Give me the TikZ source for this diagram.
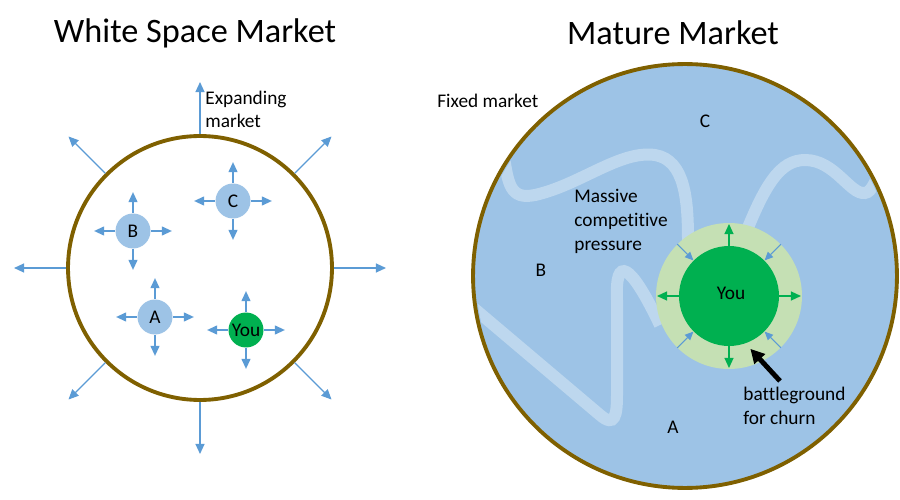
\documentclass[tikz,border=0pt]{standalone}
\usepackage{fontspec}
\setmainfont[Ligatures=NoCommon]{Carlito}
\usetikzlibrary{arrows.meta,calc}
\definecolor{brownring}{HTML}{7F6000}
\definecolor{lblue}{HTML}{9DC3E6}
\definecolor{arrblue}{HTML}{5B9BD5}
\definecolor{wave}{HTML}{BDD7EE}
\definecolor{dgreen}{HTML}{00B050}
\definecolor{lgreen}{HTML}{C5E0B4}
\begin{document}
\begin{tikzpicture}[x=0.02cm,y=-0.02cm,
 market/.style={circle,draw=brownring,line width=2.2pt,inner sep=0},
 firm/.style={circle,fill=lblue,minimum size=0.7cm,inner sep=0,font=\fontsize{11}{13}\selectfont},
 barr/.style={draw=arrblue,fill=arrblue,line width=0.7pt,-{Triangle[length=0.2cm,width=0.18cm]}},
 sarr/.style={draw=arrblue,fill=arrblue,line width=0.6pt,-{Triangle[length=0.17cm,width=0.15cm]}},
 garr/.style={draw=dgreen,fill=dgreen,line width=0.7pt,-{Triangle[length=0.2cm,width=0.18cm]}},
 lbl/.style={font=\fontsize{11}{13.5}\selectfont,inner sep=0,align=left},
 title/.style={font=\fontsize{19.5}{23}\selectfont,inner sep=0},
 wavy/.style={draw=wave,line width=0.24cm}]

\useasboundingbox (0,0) rectangle (900,500);
\fill[white] (0,0) rectangle (900,500);

% titles
\node[title] (t1) at (195,33) {White Space Market};
\node[title] (t2) at (673,33) {Mature Market};

% ---------- left: white space market ----------
\node[market,minimum size=5.28cm] (W) at (200,268) {};
\foreach \a [count=\i] in {0,45,...,315} {
  \coordinate (o\i) at ($(W.center)+(\a:3.72cm)$);
  \draw[barr] (W.\a) -- (o\i);
}
\node[lbl,anchor=west] (exp) at (205,109.5) {Expanding\\market};

\node[firm] (B) at (133,231) {B};
\node[firm] (C) at (233,201) {C};
\node[firm] (A) at (155,317) {A};
\node[firm,fill=dgreen] (Y1) at (246,330) {You};
\foreach \n in {A,B,C,Y1} {
  \draw[barr] (\n.north) -- ++(0,-21);
  \draw[barr] (\n.south) -- ++(0,21);
  \draw[barr] (\n.east) -- ++(21,0);
  \draw[barr] (\n.west) -- ++(-21,0);
}

% ---------- right: mature market ----------
\node[market,fill=lblue,minimum size=8.48cm] (M) at (685,276) {};
\begin{scope}
  \clip (685,276) circle[radius=4.18cm];
  \draw[wavy] (503,150) .. controls (508,185) and (510,200) .. (535,195)
     .. controls (580,185) and (620,150) .. (655,155)
     .. controls (685,160) and (688,200) .. (688,240);
  \draw[wavy] (470,305) -- (600,415) .. controls (615,428) and (617,415) .. (617,395)
     -- (617,300) .. controls (615,255) and (630,262) .. (660,325);
  \draw[wavy] (745,235) .. controls (765,185) and (780,160) .. (805,160)
     .. controls (835,160) and (850,195) .. (865,193)
     .. controls (872,192) and (876,180) .. (882,165);
\end{scope}

\node[circle,fill=lgreen,minimum size=2.92cm,inner sep=0] (R) at (729,296) {};
\node[circle,fill=dgreen,minimum size=2cm,inner sep=0] (Y2) at (729,296) {};
\node[lbl] (you) at (731,293) {You};
\foreach \a in {0,90,180,270} {
  \draw[garr] (Y2.\a) -- ($(Y2.center)+(\a:1.44cm)$);
}
\foreach \a in {45,135,225,315} {
  \draw[sarr] (R.\a) -- (Y2.\a);
}

\node[lbl,anchor=west] (fixed) at (437,101) {Fixed market};
\node[lbl] (lc) at (705,121) {C};
\node[lbl] (lb) at (541,270) {B};
\node[lbl] (la) at (673,427) {A};
\node[lbl,anchor=west] (mass) at (574,221.5) {Massive\\competitive\\pressure};
\node[lbl,anchor=west] (bg) at (743,405.5) {battleground\\for churn};

\coordinate (bs) at (780,381);
\draw[line width=2.8pt,-{Triangle[length=0.28cm,width=0.28cm]}] (bs) -- ($(Y2.center)+(-68:1.14cm)$);
\end{tikzpicture}
\end{document}
